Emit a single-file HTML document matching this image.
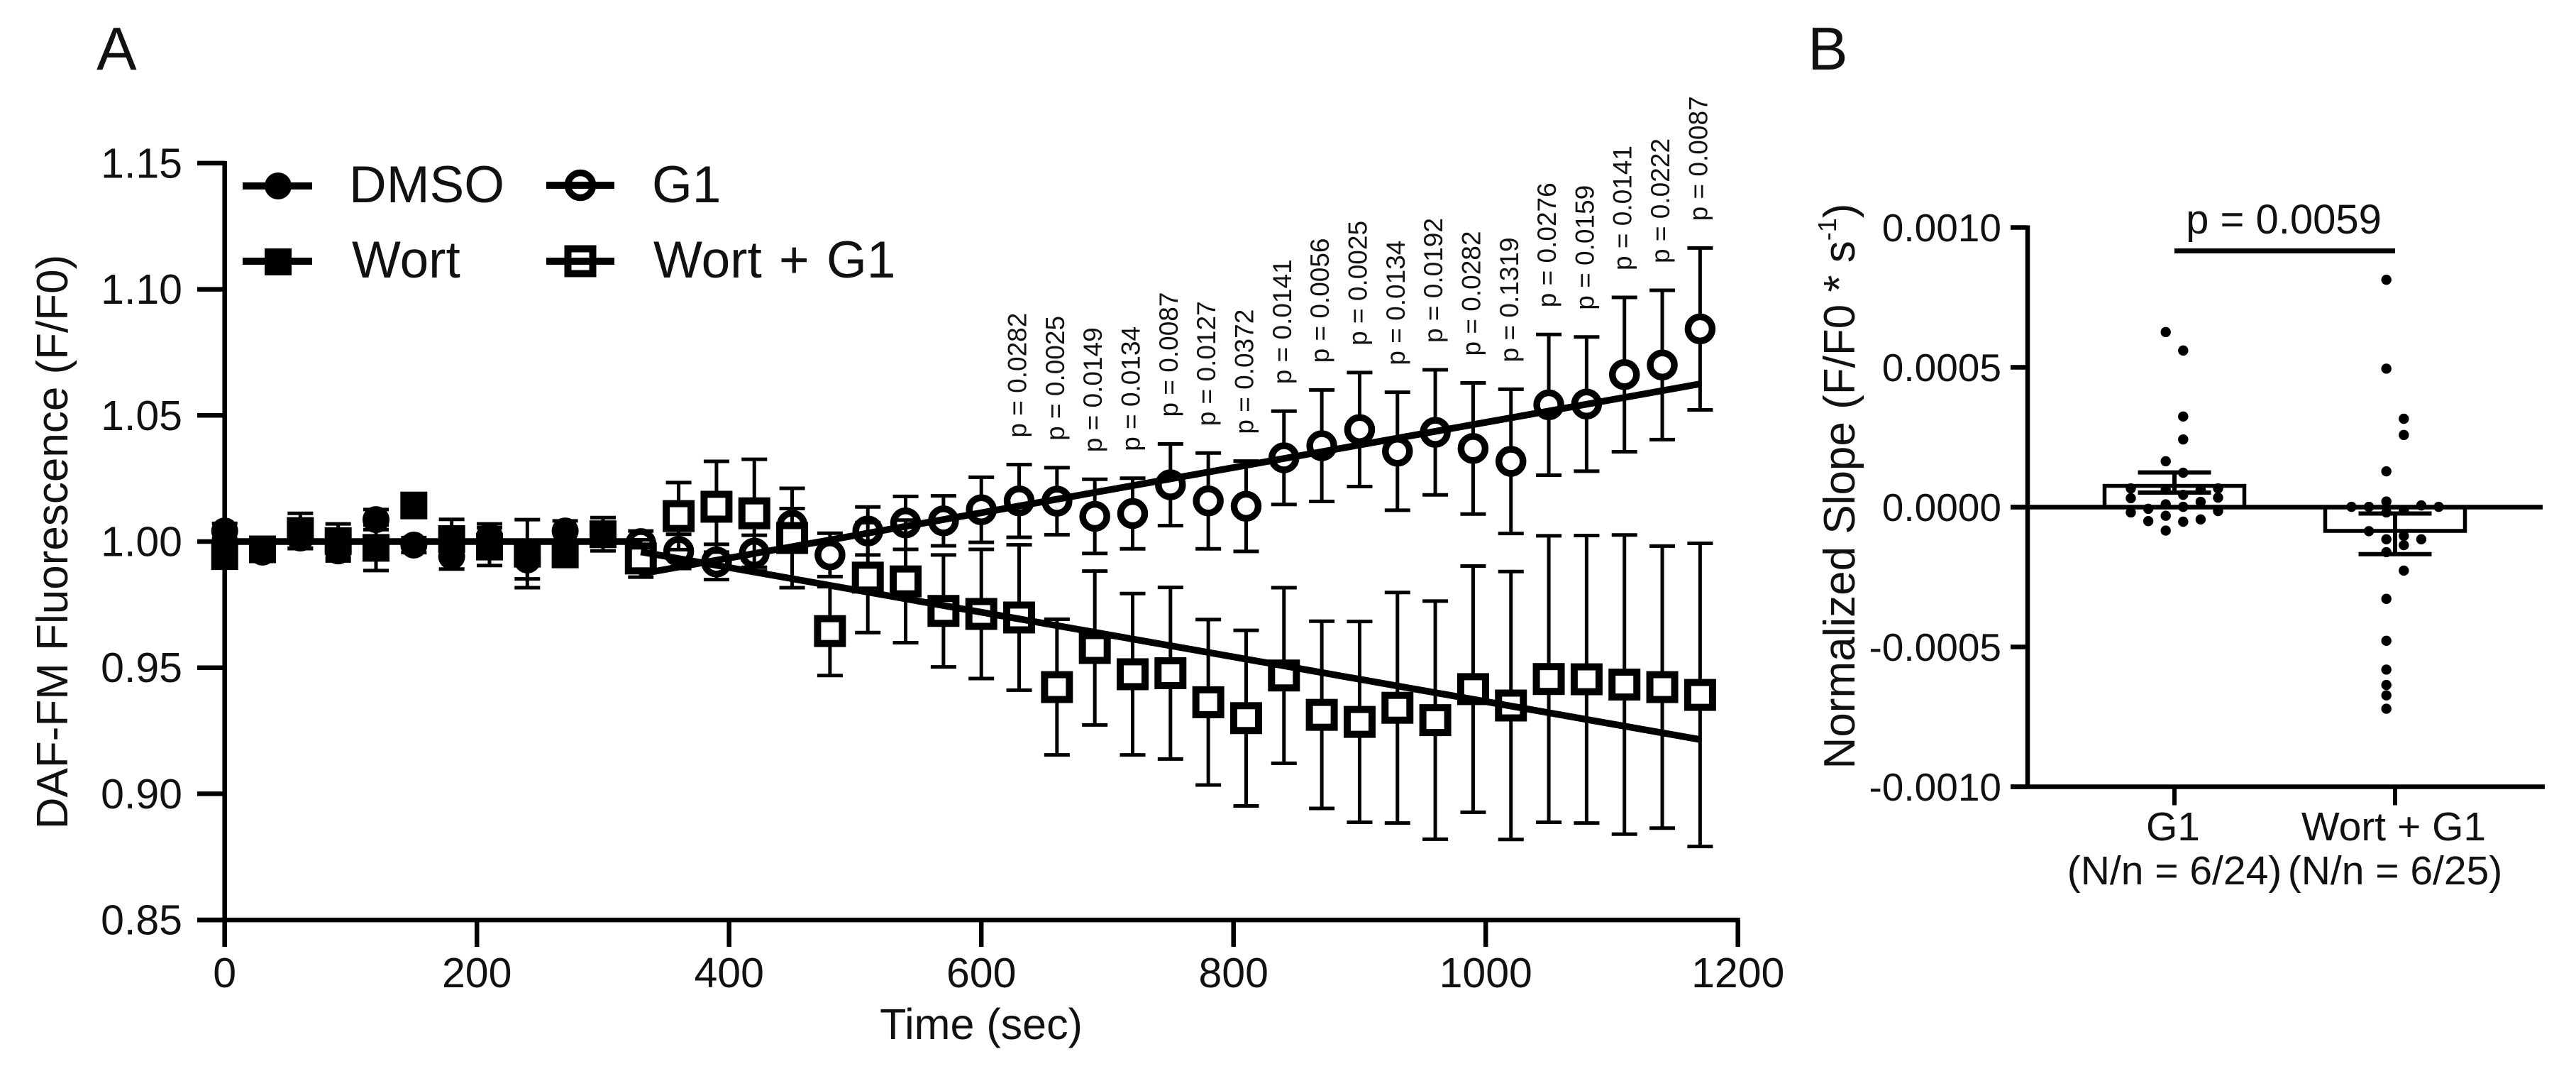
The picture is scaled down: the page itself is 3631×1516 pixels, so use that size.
<!DOCTYPE html>
<html lang="en">
<head>
<meta charset="utf-8">
<title>DAF-FM Fluorescence Time Course and Normalized Slope</title>
<style>
html,body{margin:0;padding:0;background:#fff;}
body{width:3631px;height:1516px;overflow:hidden;}
svg{display:block;}
text{font-family:"Liberation Sans",sans-serif;fill:#111;}
</style>
</head>
<body>
<svg id="figure" xmlns="http://www.w3.org/2000/svg" width="3631" height="1516" viewBox="0 0 3631 1516">
  <rect x="0" y="0" width="3631" height="1516" fill="#fff"/>
  <text x="136" y="98" font-size="85" fill="#222">A</text>
  <text x="2548" y="98" font-size="85" fill="#222">B</text>

  <g id="panelA">
    <text transform="translate(95,763.5) rotate(-90)" text-anchor="middle" font-size="62">DAF-FM Fluorescence (F/F0)</text>
    <text x="1383" y="1464" text-anchor="middle" font-size="61">Time (sec)</text>
    <g id="axesA"></g>
    <g id="marksA"></g>
    <g id="pLabels"></g>
    <g>
      <g>
        <line x1="342" x2="440" y1="262" y2="262" stroke="#000" stroke-width="10"/>
        <circle cx="392" cy="262" r="19" fill="#000"/>
        <text x="492" y="285" font-size="73">DMSO</text>
      </g>
      <g>
        <line x1="342" x2="440" y1="368" y2="368" stroke="#000" stroke-width="10"/>
        <rect x="373" y="350" width="38" height="38" fill="#000"/>
        <text x="496" y="391" font-size="73">Wort</text>
      </g>
      <g>
        <circle cx="818" cy="261" r="17.5" fill="#fff" stroke="#000" stroke-width="9.5"/>
        <line x1="770" x2="866" y1="261" y2="261" stroke="#000" stroke-width="10"/>
        <text x="919" y="285" font-size="73">G1</text>
      </g>
      <g>
        <rect x="800.5" y="350.5" width="35" height="35" fill="#fff" stroke="#000" stroke-width="10"/>
        <line x1="770" x2="866" y1="368" y2="368" stroke="#000" stroke-width="10"/>
        <text x="921" y="391" font-size="73" word-spacing="4">Wort + G1</text>
      </g>
    </g>
  </g>

  <g id="panelB">
    <text transform="translate(2614,685) rotate(-90)" text-anchor="middle" font-size="62">Normalized Slope (F/F0 * s<tspan font-size="36" dy="-26">-1</tspan><tspan dy="26">)</tspan></text>
    <g id="marksB"></g>
    <g id="axesB"></g>
    <text x="3219" y="329" text-anchor="middle" font-size="58" fill="#333">p = 0.0059</text>
    <line x1="3065" x2="3376" y1="353.5" y2="353.5" stroke="#000" stroke-width="7"/>
  </g>
</svg>
<script>
/* ---------- Panel A data ---------- */
const xTicksA = [0, 200, 400, 600, 800, 1000, 1200];
const yTicksA = ["0.85", "0.90", "0.95", "1.00", "1.05", "1.10", "1.15"];

const earlyTimes = [0, 30, 60, 90, 120, 150, 180, 210, 240, 270, 300];
const dmsoValues = [1.0042, 0.9958, 1.0014, 0.9963, 1.0087, 0.9986, 0.9941, 1.002, 0.9927, 1.0042, 1.003];
const dmsoErrors = [0.003, 0.003, 0.004, 0.004, 0.004, 0.003, 0.005, 0.005, 0.0075, 0.004, 0.004];
const wortValues = [0.9942, 0.9969, 1.0042, 1.0002, 0.9975, 1.0143, 1.001, 0.998, 0.9952, 0.9949, 1.0029];
const wortErrors = [0.003, 0.003, 0.007, 0.0068, 0.009, 0.003, 0.0078, 0.0075, 0.0135, 0.003, 0.0066];

const lateTimes = [330, 360, 390, 420, 450, 480, 510, 540, 570, 600, 630, 660, 690, 720, 750, 780, 810, 840, 870, 900, 930, 960, 990, 1020, 1050, 1080, 1110, 1140, 1170];
const g1Values = [0.9992, 0.9961, 0.9919, 0.9954, 1.0065, 0.9947, 1.0042, 1.0074, 1.0082, 1.0126, 1.0161, 1.016, 1.01, 1.0111, 1.0225, 1.0161, 1.014, 1.0332, 1.038, 1.0444, 1.0358, 1.0433, 1.0369, 1.0318, 1.0542, 1.0545, 1.0662, 1.07, 1.0843];
const g1Errors = [0.005, 0.0068, 0.007, 0.0071, 0.0066, 0.0086, 0.0095, 0.0105, 0.0099, 0.0129, 0.0144, 0.0133, 0.0147, 0.014, 0.0162, 0.019, 0.0179, 0.0185, 0.0221, 0.0226, 0.0234, 0.0248, 0.026, 0.0286, 0.0279, 0.0266, 0.0306, 0.0296, 0.0321];
const wortG1Values = [0.9933, 1.0101, 1.0138, 1.0112, 1.0014, 0.9645, 0.9857, 0.9842, 0.9725, 0.9713, 0.9699, 0.9423, 0.9578, 0.9474, 0.9478, 0.9363, 0.93, 0.9469, 0.9313, 0.9285, 0.9341, 0.9292, 0.9415, 0.935, 0.9455, 0.9454, 0.9433, 0.9423, 0.9392];
const wortG1Errors = [0.0074, 0.0133, 0.018, 0.0214, 0.0197, 0.0176, 0.0218, 0.0243, 0.0222, 0.0256, 0.0288, 0.0269, 0.0305, 0.032, 0.034, 0.0328, 0.0348, 0.0348, 0.0371, 0.0398, 0.0457, 0.0472, 0.0488, 0.0531, 0.0568, 0.057, 0.0593, 0.0559, 0.0601];

const baselineFitTimes = [0, 330];
const baselineFitValues = [1.0, 1.0];
const g1FitTimes = [330, 1170];
const g1FitValues = [0.9872, 1.0625];
const wortG1FitTimes = [330, 1170];
const wortG1FitValues = [0.9959, 0.9215];

const pTimes = [630, 660, 690, 720, 750, 780, 810, 840, 870, 900, 930, 960, 990, 1020, 1050, 1080, 1110, 1140, 1170];
const pLabels = ["p = 0.0282", "p = 0.0025", "p = 0.0149", "p = 0.0134", "p = 0.0087", "p = 0.0127", "p = 0.0372", "p = 0.0141", "p = 0.0056", "p = 0.0025", "p = 0.0134", "p = 0.0192", "p = 0.0282", "p = 0.1319", "p = 0.0276", "p = 0.0159", "p = 0.0141", "p = 0.0222", "p = 0.0087"];

/* ---------- Panel B data ---------- */
const slopeCategories = ["G1", "Wort + G1"];
const slopeCategoryNotes = ["(N/n = 6/24)", "(N/n = 6/25)"];
const slopeYTicks = ["-0.0010", "-0.0005", "0.0000", "0.0005", "0.0010"];
const slopeMeans = [0.000076, -0.000085];
const slopeErrHigh = [0.000124, -0.000023];
const slopeErrLow = [0.000052, -0.000168];

const g1SlopePoints = [0.000626, 0.00056, 0.000324, 0.000242, 0.000164, 0.000123, 0.000067, 0.000062, 0.000044, 0.000062, 0.000067, 0.000032, 0.000034, 0.000019, 0.00001, 0.000001, -0.000006, -0.000019, -0.000014, -0.000031, -0.00005, -0.000052, -0.000044, -0.000084];
const g1SlopeSlots = [-0.5, 0.5, 0.5, 0.5, -0.5, 0.5, -2.5, -0.5, 0.5, 1.5, 2.5, -2.5, 2.5, 1.5, -0.5, 0.5, -1.5, -2.5, 2.5, -0.5, -1.5, 0.5, 1.5, -0.5];
const wortG1SlopePoints = [0.000813, 0.000495, 0.000316, 0.000258, 0.000128, 0.00002, 0.000001, 0.000001, 0.000006, 0.000001, -0.000011, -0.000019, -0.000086, -0.000103, -0.000115, -0.000115, -0.000136, -0.000161, -0.000227, -0.000328, -0.000478, -0.000581, -0.000636, -0.000673, -0.000721];
const wortG1SlopeSlots = [-0.5, -0.5, 0.5, 0.5, -0.5, -0.5, -2.5, -1.5, 1.5, 2.5, 0.5, -0.5, -1.5, 0.5, -0.5, 1.5, 0.5, -0.5, 0.5, -0.5, -0.5, -0.5, -0.5, -0.5, -0.5];

/* ---------- Axis functions ---------- */
function xA(t) { return 316.7 + t * 1.7775; }
function yA(v) { return 763 + (1 - v) * 3554; }
function xB(i) { return 3065 + i * 311; }
function yB(v) { return 714.5 - v * 394000; }
const SLOT_WIDTH = 24.6;

const NS = "http://www.w3.org/2000/svg";
function draw(parent, tag, attrs) {
  const el = document.createElementNS(NS, tag);
  for (const k in attrs) el.setAttribute(k, attrs[k]);
  parent.appendChild(el);
  return el;
}

const axesA = document.getElementById("axesA");
const marksA = document.getElementById("marksA");
const pGroup = document.getElementById("pLabels");
const axesB = document.getElementById("axesB");
const marksB = document.getElementById("marksB");

/* ---------- Panel A axes ---------- */
let yAxisA = draw(axesA, "line", { x1: xA(0), x2: xA(0), y1: yA(1.15) - 3, y2: 1334, stroke: "#000", "stroke-width": 6.5 });


let xAxisA = draw(axesA, "line", { x1: 278, x2: xA(1200) + 3, y1: yA(0.85), y2: yA(0.85), stroke: "#000", "stroke-width": 6.5 });



yTicksA.forEach(function (label) {
  const v = parseFloat(label);
  const tick = draw(axesA, "line", { x1: 278, x2: xA(0), y1: yA(v), y2: yA(v), stroke: "#000", "stroke-width": 6.5 });
  
  
  const txt = draw(axesA, "text", { x: 257, y: yA(v) + 20.5, "text-anchor": "end", "font-size": 59 });
  txt.textContent = label;
  
  
});
xTicksA.forEach(function (t) {
  const tick = draw(axesA, "line", { x1: xA(t), x2: xA(t), y1: yA(0.85), y2: 1334, stroke: "#000", "stroke-width": 6.5 });
  
  
  const txt = draw(axesA, "text", { x: xA(t), y: 1391, "text-anchor": "middle", "font-size": 59 });
  txt.textContent = String(t);
  
  
});

/* ---------- Panel A series ---------- */
function errorBar(parent, x, y1, y2, capW, sw) {
  const stem = draw(parent, "line", { x1: x, x2: x, y1: y1, y2: y2, stroke: "#000", "stroke-width": sw });
  
  
  const capTop = draw(parent, "line", { x1: x - capW / 2, x2: x + capW / 2, y1: y1, y2: y1, stroke: "#000", "stroke-width": sw });
  
  
  const capBottom = draw(parent, "line", { x1: x - capW / 2, x2: x + capW / 2, y1: y2, y2: y2, stroke: "#000", "stroke-width": sw });
  
  
}

function series(name, times, values, errors, marker) {
  const g = draw(marksA, "g", {});
  
  
  times.forEach(function (t, i) {
    const x = xA(t), y = yA(values[i]);
    errorBar(g, x, yA(values[i] + errors[i]), yA(values[i] - errors[i]), 36, 5);
    let m;
    if (marker === "filled-circle") {
      m = draw(g, "circle", { cx: x, cy: y, r: 19, fill: "#000" });
    } else if (marker === "filled-square") {
      m = draw(g, "rect", { x: x - 19, y: y - 19.5, width: 38, height: 39, fill: "#000" });
    } else if (marker === "open-circle") {
      m = draw(g, "circle", { cx: x, cy: y, r: 17, fill: "#fff", stroke: "#000", "stroke-width": 9.5 });
    } else {
      m = draw(g, "rect", { x: x - 17.5, y: y - 17.5, width: 35, height: 35, fill: "#fff", stroke: "#000", "stroke-width": 10 });
    }
    
    
  });
}

series("series-dmso", earlyTimes, dmsoValues, dmsoErrors, "filled-circle");
series("series-wort", earlyTimes, wortValues, wortErrors, "filled-square");
series("series-g1", lateTimes, g1Values, g1Errors, "open-circle");
series("series-wort-g1", lateTimes, wortG1Values, wortG1Errors, "open-square");

function fitLine(name, times, values) {
  const l = draw(marksA, "line", { x1: xA(times[0]), x2: xA(times[1]), y1: yA(values[0]), y2: yA(values[1]), stroke: "#000", "stroke-width": 9.5 });
  
  
}
fitLine("fit-line-baseline", baselineFitTimes, baselineFitValues);
fitLine("fit-line-g1", g1FitTimes, g1FitValues);
fitLine("fit-line-wort-g1", wortG1FitTimes, wortG1FitValues);

pTimes.forEach(function (t, i) {
  const idx = lateTimes.indexOf(t);
  const top = yA(g1Values[idx] + g1Errors[idx]) - 38;
  const txt = draw(pGroup, "text", { transform: "translate(" + (xA(t) + 10) + "," + top + ") rotate(-90)", "font-size": 37 });
  txt.textContent = pLabels[i];
  
  
});

/* ---------- Panel B axes ---------- */
let yAxisB = draw(axesB, "line", { x1: 2858, x2: 2858, y1: yB(0.001) - 3, y2: yB(-0.001) + 3, stroke: "#000", "stroke-width": 6.5 });


let xAxisB = draw(axesB, "line", { x1: 2834, x2: 3587, y1: yB(-0.001), y2: yB(-0.001), stroke: "#000", "stroke-width": 6.5 });


let zeroLine = draw(axesB, "line", { x1: 2834, x2: 3584, y1: yB(0), y2: yB(0), stroke: "#000", "stroke-width": 6.5 });



slopeYTicks.forEach(function (label) {
  const v = parseFloat(label);
  const tick = draw(axesB, "line", { x1: 2834, x2: 2858, y1: yB(v), y2: yB(v), stroke: "#000", "stroke-width": 6.5 });
  
  
  const txt = draw(axesB, "text", { x: 2821, y: yB(v) + 19.5, "text-anchor": "end", "font-size": 55 });
  txt.textContent = label;
  
  
});
slopeCategories.forEach(function (label, i) {
  const tick = draw(axesB, "line", { x1: xB(i), x2: xB(i), y1: yB(-0.001), y2: 1134.5, stroke: "#000", "stroke-width": 6 });
  
  
  const txt = draw(axesB, "text", { x: xB(i) - 2, y: 1184, "text-anchor": "middle", "font-size": 57 });
  txt.textContent = label;
  
  
  const note = draw(axesB, "text", { x: xB(i), y: 1246, "text-anchor": "middle", "font-size": 57 });
  note.textContent = slopeCategoryNotes[i];
  
  
});

/* ---------- Panel B marks ---------- */
slopeMeans.forEach(function (mean, i) {
  const y0 = yB(0), y1 = yB(mean);
  const bar = draw(marksB, "rect", { x: xB(i) - 98.5, y: Math.min(y0, y1), width: 197, height: Math.abs(y1 - y0), fill: "#fff", stroke: "#000", "stroke-width": 5.5 });
  
  
  errorBar(marksB, xB(i), yB(slopeErrHigh[i]), yB(slopeErrLow[i]), 103, 6);
});
function swarm(name, i, values, slots) {
  values.forEach(function (v, j) {
    const dot = draw(marksB, "circle", { cx: xB(i) + slots[j] * SLOT_WIDTH, cy: yB(v), r: 7.2, fill: "#000" });
    
    
  });
}
swarm("g1-slope-point", 0, g1SlopePoints, g1SlopeSlots);
swarm("wort-g1-slope-point", 1, wortG1SlopePoints, wortG1SlopeSlots);
</script>
</body>
</html>
